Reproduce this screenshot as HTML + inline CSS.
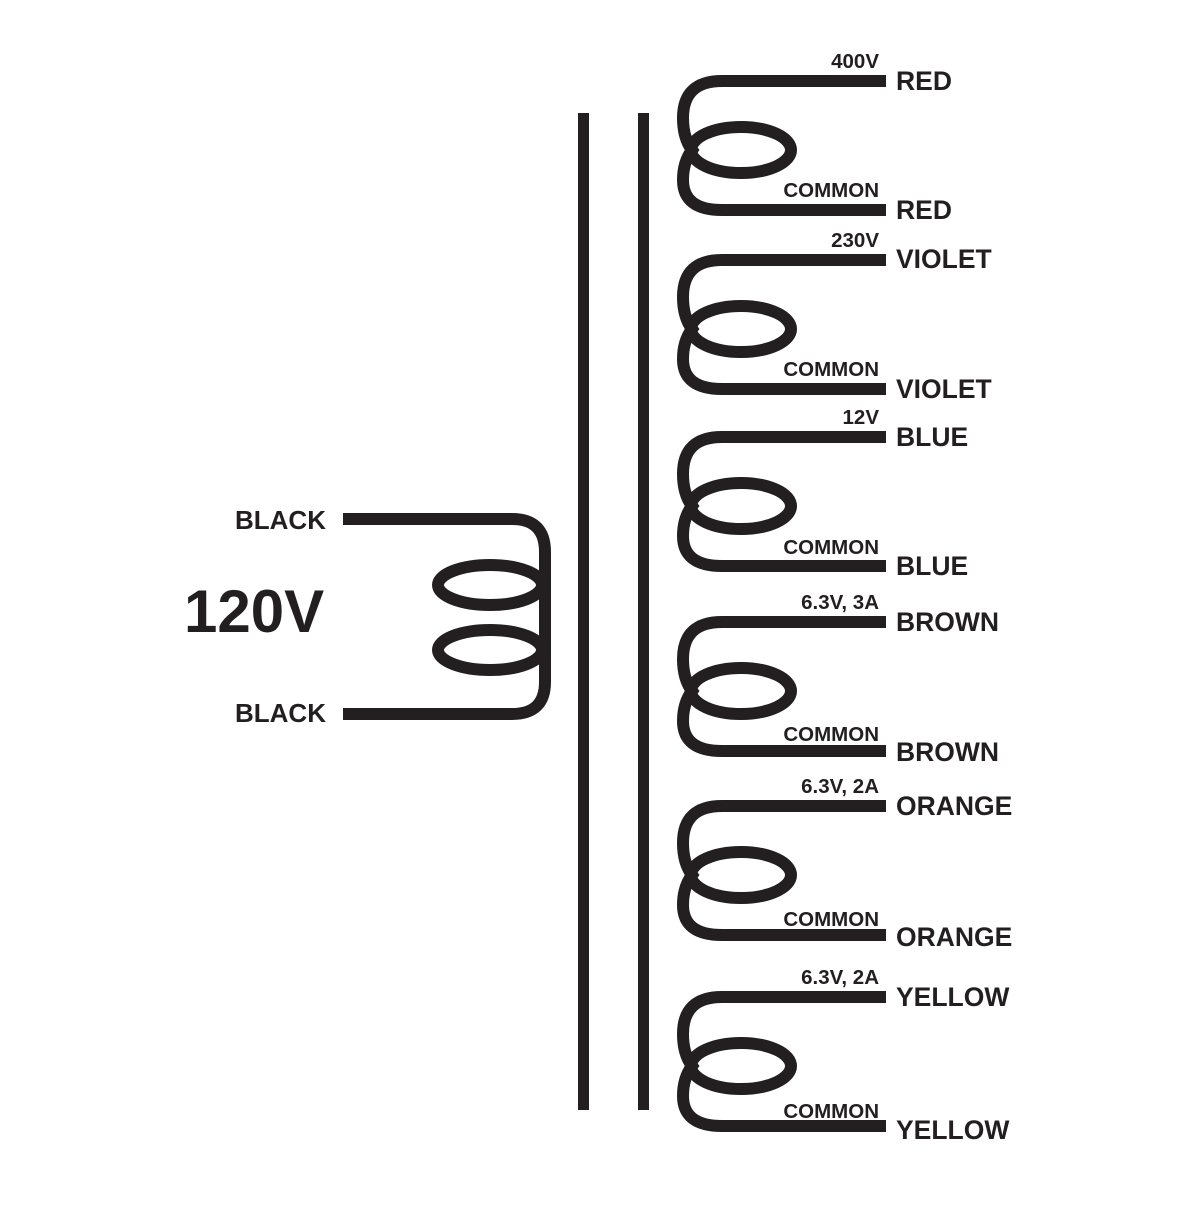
<!DOCTYPE html>
<html><head><style>body{margin:0;background:#fff}</style></head><body>
<svg width="1200" height="1200" xmlns="http://www.w3.org/2000/svg" font-family="Liberation Sans, sans-serif" font-weight="bold" fill="#231f20">
<rect x="578" y="113" width="11" height="997" fill="#231f20"/>
<rect x="638" y="113" width="11" height="997" fill="#231f20"/>
<g fill="none" stroke="#231f20" stroke-width="12">
<path d="M343 519 H512 Q545 519 545 552 V682 Q545 714 512 714 H343"/>
<ellipse cx="490" cy="585" rx="52" ry="20"/>
<ellipse cx="490" cy="650" rx="52" ry="20"/>
</g>
<g id="c" fill="none" stroke="#231f20" stroke-width="12">
<path d="M886 81 H722 Q683 81 683 118 Q683 138 692 150 Q683 162 683 180 Q683 210 722 210 H886"/>
<ellipse cx="741" cy="150" rx="50" ry="23"/>
</g>
<use href="#c" y="179"/>
<use href="#c" y="356"/>
<use href="#c" y="541"/>
<use href="#c" y="725"/>
<use href="#c" y="916"/>
<g font-size="26.5">
<text x="896" y="90">RED</text><text x="896" y="219">RED</text>
<text x="896" y="268">VIOLET</text><text x="896" y="398">VIOLET</text>
<text x="896" y="446">BLUE</text><text x="896" y="575">BLUE</text>
<text x="896" y="631">BROWN</text><text x="896" y="761">BROWN</text>
<text x="896" y="815">ORANGE</text><text x="896" y="946">ORANGE</text>
<text x="896" y="1006">YELLOW</text><text x="896" y="1139">YELLOW</text>
</g>
<g font-size="26" text-anchor="end">
<text x="326" y="529">BLACK</text>
<text x="326" y="722">BLACK</text>
</g>
<g font-size="20.5" text-anchor="end">
<text x="879" y="68">400V</text><text x="879" y="197">COMMON</text>
<text x="879" y="247">230V</text><text x="879" y="376">COMMON</text>
<text x="879" y="424">12V</text><text x="879" y="554">COMMON</text>
<text x="879" y="609">6.3V, 3A</text><text x="879" y="741">COMMON</text>
<text x="879" y="793">6.3V, 2A</text><text x="879" y="926">COMMON</text>
<text x="879" y="984">6.3V, 2A</text><text x="879" y="1118">COMMON</text>
</g>
<text x="184" y="632" font-size="60">120V</text>
</svg>
</body></html>
